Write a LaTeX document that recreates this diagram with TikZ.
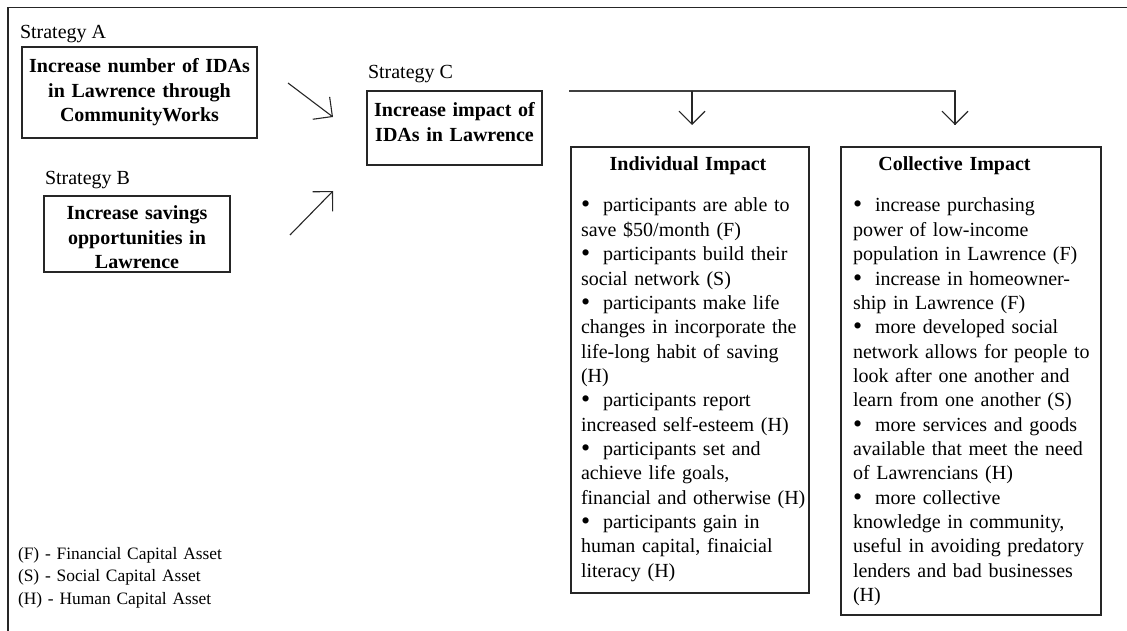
\documentclass[tikz,border=0pt]{standalone}
\usepackage{graphicx}
\usepackage{fontspec}
\setmainfont{Liberation Serif}
\usetikzlibrary{arrows.meta}
% bullet followed by a fixed gap, as in the impact lists
\newcommand{\itembul}{\makebox[22pt][l]{\raisebox{-1pt}{\scalebox{1.3}{\textbullet}}}}
\begin{document}
\begin{tikzpicture}[x=1pt,y=-1pt,
  every node/.style={inner sep=0pt, outer sep=0pt},
  frameline/.style={line width=1.6pt, draw=black!85},
  boxframe/.style={rectangle, draw=black!85, line width=1.3pt, anchor=north west},
  plain/.style={font=\fontsize{20}{24.35}\selectfont, anchor=base west},
  body/.style={font=\fontsize{20}{24.35}\selectfont, text width=250pt, align=left, anchor=base west},
  boldhead/.style={font=\bfseries\fontsize{20}{24.2}\selectfont, text width=240pt, align=center, anchor=base},
  legend/.style={font=\fontsize{17.4}{22.6}\selectfont, text width=260pt, align=left, anchor=base west},
  diag/.style={line width=1.1pt, draw=black!85, -{Straight Barb[length=14pt,width=28pt]}},
  bus/.style={line width=1.6pt, draw=black!75},
  drop/.style={line width=1.1pt, draw=black!85, -{Straight Barb[length=13pt,width=26pt]}},
]
\useasboundingbox (0,0) rectangle (1127,631);

% outer frame (left and top sides)
\draw[frameline] (8,631) -- (8,7.5) -- (1127,7.5);

% Strategy A
\node[plain] (labA) at (20,39) {Strategy A};
\node[boxframe, minimum width=235pt, minimum height=91pt] (boxA) at (22,47) {};
\node[boldhead] (txtA) at (139.5,73) {Increase number of IDAs\\in Lawrence through\\CommunityWorks};

% Strategy B
\node[plain] (labB) at (45,185) {Strategy B};
\node[boxframe, minimum width=186pt, minimum height=76pt] (boxB) at (44,196) {};
\node[boldhead] (txtB) at (137,220) {Increase savings\\opportunities in\\Lawrence};

% Strategy C
\node[plain] (labC) at (368,79) {Strategy C};
\node[boxframe, minimum width=175pt, minimum height=74pt] (boxC) at (367,91) {};
\node[boldhead] (txtC) at (454.5,117) {Increase impact of\\IDAs in Lawrence};

% arrows from A and B towards C
\coordinate (aFrom) at (288,83);
\coordinate (aTo) at (333,117);
\coordinate (bFrom) at (290,235);
\coordinate (bTo) at (333,191);
\draw[diag] (aFrom) -- (aTo);
\draw[diag] (bFrom) -- (bTo);

% impact boxes
\node[boxframe, minimum width=238pt, minimum height=446pt] (boxI) at (571,147) {};
\node[boxframe, minimum width=260pt, minimum height=468pt] (boxK) at (841,147) {};

% bus line branching down to both impact boxes
\coordinate (busStart) at (569,91);
\coordinate (busMid) at (692,91);
\coordinate (busEnd) at (955,91);
\coordinate (dropI) at (692,125);
\coordinate (dropK) at (955,125);
\draw[bus] (busStart) -- (busEnd) -- (dropK);
\draw[drop] (busMid) -- (dropI);
\draw[drop] ([yshift=-0.5pt]busEnd) -- (dropK);

% individual impact
\node[boldhead] (headI) at (688,171) {Individual Impact};
\node[body] (listI) at (581,212) {%
\itembul participants are able to\\
save \$50/month (F)\\
\itembul participants build their\\
social network (S)\\
\itembul participants make life\\
changes in incorporate the\\
life-long habit of saving\\
(H)\\
\itembul participants report\\
increased self-esteem (H)\\
\itembul participants set and\\
achieve life goals,\\
financial and otherwise (H)\\
\itembul participants gain in\\
human capital, finaicial\\
literacy (H)};

% collective impact
\node[boldhead] (headK) at (954.5,171) {Collective Impact};
\node[body] (listK) at (853,212) {%
\itembul increase purchasing\\
power of low-income\\
population in Lawrence (F)\\
\itembul increase in homeowner-\\
ship in Lawrence (F)\\
\itembul more developed social\\
network allows for people to\\
look after one another and\\
learn from one another (S)\\
\itembul more services and goods\\
available that meet the need\\
of Lawrencians (H)\\
\itembul more collective\\
knowledge in community,\\
useful in avoiding predatory\\
lenders and bad businesses\\
(H)};

% legend
\node[legend] (key) at (18,559) {(F) - Financial Capital Asset\\
(S) - Social Capital Asset\\
(H) - Human Capital Asset};
\end{tikzpicture}
\end{document}
